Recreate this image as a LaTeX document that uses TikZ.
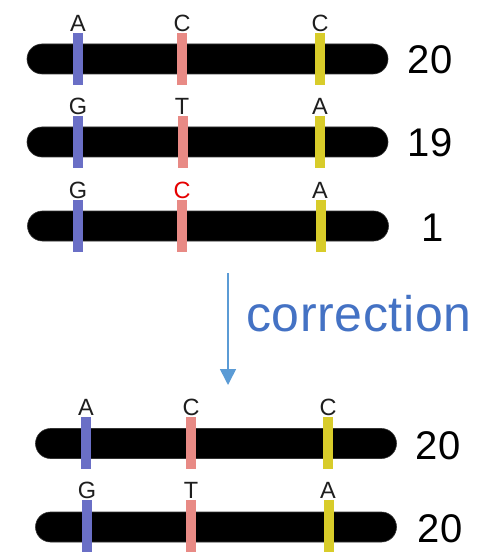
\documentclass[tikz,border=0pt]{standalone}
\usepackage{fontspec}
\setmainfont{Liberation Sans}
\newfontfamily\spacedfont[LetterSpace=1.3]{Liberation Sans}
\usetikzlibrary{arrows.meta}
\definecolor{stblue}{RGB}{106,111,198}
\definecolor{stpink}{RGB}{232,138,133}
\definecolor{styellow}{RGB}{216,204,42}
\definecolor{arrowblue}{RGB}{91,155,213}
\definecolor{textblue}{RGB}{68,114,196}
\definecolor{lettergray}{RGB}{30,30,30}
\begin{document}
\begin{tikzpicture}[x=1pt,y=-1pt,
  chrom/.style={fill=black,draw=black!80,line width=0.6pt,rounded corners=15pt,minimum width=361pt,minimum height=30pt,inner sep=0pt},
  stripe/.style={fill=#1,draw=none,minimum width=9.5pt,minimum height=52pt,inner sep=0pt},
  base/.style={anchor=base,inner sep=0pt,font=\fontsize{23.5}{23.5}\selectfont,text=lettergray},
  count/.style={anchor=base,inner sep=0pt,font=\fontsize{40}{40}\selectfont,text=black}]
\useasboundingbox (0,0) rectangle (499,553);
% bars
\node[chrom] (b1) at (207.5,59) {};
\node[chrom] (b2) at (207.5,142) {};
\node[chrom] (b3) at (208,226) {};
\node[chrom] (b4) at (216,443.5) {};
\node[chrom] (b5) at (216,527) {};
% stripes
\node[stripe=stblue] (s1a) at (78,59.5) {};
\node[stripe=stpink] (s1b) at (182,59.5) {};
\node[stripe=styellow] (s1c) at (320,59.5) {};
\node[stripe=stblue] (s2a) at (78,142.5) {};
\node[stripe=stpink] (s2b) at (183,142.5) {};
\node[stripe=styellow] (s2c) at (320,142.5) {};
\node[stripe=stblue] (s3a) at (78,226) {};
\node[stripe=stpink] (s3b) at (182,226) {};
\node[stripe=styellow] (s3c) at (321,226) {};
\node[stripe=stblue] (s4a) at (86,443) {};
\node[stripe=stpink] (s4b) at (191,443) {};
\node[stripe=styellow] (s4c) at (328,443) {};
\node[stripe=stblue] (s5a) at (87,525.5) {};
\node[stripe=stpink] (s5b) at (191,525.5) {};
\node[stripe=styellow] (s5c) at (329,525.5) {};
% letters
\node[base] (l1a) at (78,32) {A};
\node[base] (l1b) at (182,32) {C};
\node[base] (l1c) at (320,32) {C};
\node[base] (l2a) at (78,115) {G};
\node[base] (l2b) at (182,115) {T};
\node[base] (l2c) at (320,115) {A};
\node[base] (l3a) at (78,198) {G};
\node[base,text=red!90!black] (l3b) at (182,198) {C};
\node[base] (l3c) at (320,198) {A};
\node[base] (l4a) at (86,415) {A};
\node[base] (l4b) at (191,415) {C};
\node[base] (l4c) at (328,415) {C};
\node[base] (l5a) at (87,498) {G};
\node[base] (l5b) at (191,498) {T};
\node[base] (l5c) at (328,498) {A};
% counts
\node[count] (c1) at (430,74) {20};
\node[count] (c2) at (430,157) {19};
\node[count] (c3) at (433,241) {1};
\node[count] (c4) at (438,459) {20};
\node[count] (c5) at (440,542) {20};
% arrow
\coordinate (atop) at (228,273);
\coordinate (abot) at (228,385);
\draw[arrowblue,line width=1.6pt,-{Triangle[width=16pt,length=16pt]}] (atop) -- (abot);
\node[anchor=base west,inner sep=0pt,font=\spacedfont\fontsize{50}{50}\selectfont,text=textblue] (corr) at (246,331) {correction};
\end{tikzpicture}
\end{document}
